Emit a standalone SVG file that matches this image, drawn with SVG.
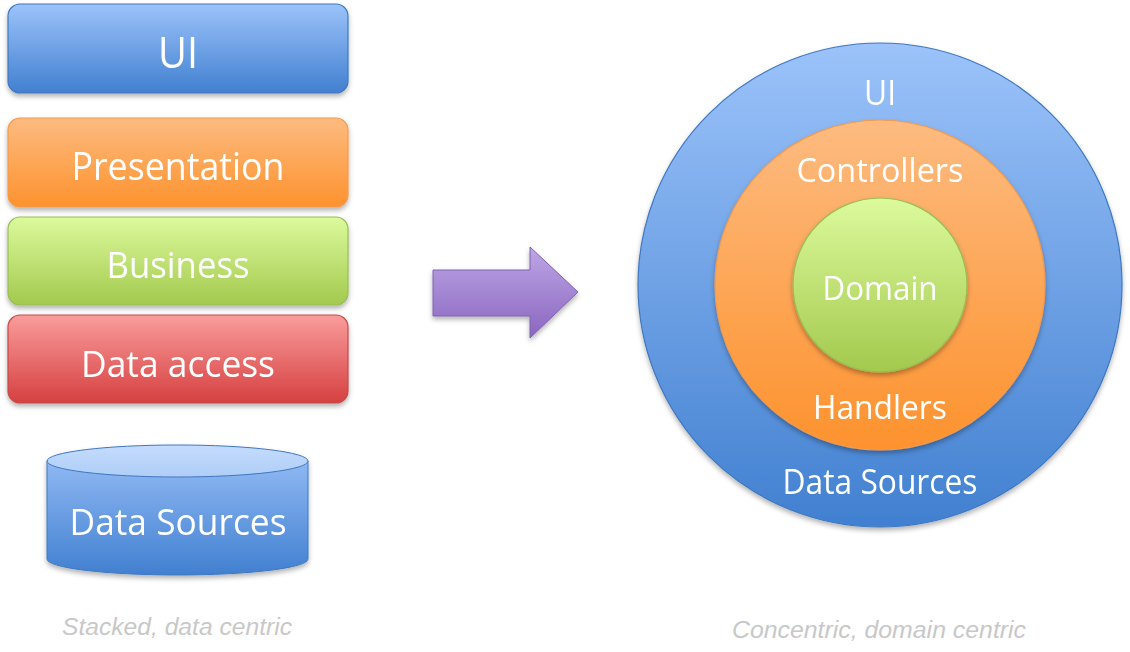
<svg xmlns="http://www.w3.org/2000/svg" width="1130" height="652" viewBox="0 0 1130 652">
<defs>
<linearGradient id="gBlue" x1="0" y1="0" x2="0" y2="1"><stop offset="0" stop-color="#9cc3fa"/><stop offset="1" stop-color="#4180d0"/></linearGradient>
<linearGradient id="gOrange" x1="0" y1="0" x2="0" y2="1"><stop offset="0" stop-color="#fdbb80"/><stop offset="1" stop-color="#fd922e"/></linearGradient>
<linearGradient id="gGreen" x1="0" y1="0" x2="0" y2="1"><stop offset="0" stop-color="#dcfa9c"/><stop offset="1" stop-color="#a3c94e"/></linearGradient>
<linearGradient id="gRed" x1="0" y1="0" x2="0" y2="1"><stop offset="0" stop-color="#fa9c9c"/><stop offset="1" stop-color="#d64040"/></linearGradient>
<linearGradient id="gPurple" x1="0" y1="0" x2="0" y2="1"><stop offset="0" stop-color="#bea6e6"/><stop offset="1" stop-color="#8a66bf"/></linearGradient>
<linearGradient id="gCylTop" x1="0" y1="0" x2="0" y2="1"><stop offset="0" stop-color="#c4dcfd"/><stop offset="1" stop-color="#afcdf7"/></linearGradient>
<linearGradient id="gCyl" x1="0" y1="0" x2="0" y2="1"><stop offset="0" stop-color="#8fb8f3"/><stop offset="1" stop-color="#4180d0"/></linearGradient>
<filter id="shadow" x="-10%" y="-10%" width="120%" height="130%"><feDropShadow dx="0" dy="3" stdDeviation="2.5" flood-color="#000" flood-opacity="0.3"/></filter>
</defs>
<style>
.lbl{font-family:"Open Sans","Noto Sans",sans-serif;fill:#ffffff;text-anchor:middle}
.cap{font-family:"Liberation Sans",Arial,sans-serif;font-style:italic;fill:#c8c8c8;font-size:24.5px}
.box{stroke-width:1.2}
</style>
<g id="ui-box" filter="url(#shadow)">
<rect class="box" x="8" y="4" width="340" height="89" rx="12" fill="url(#gBlue)" stroke="#3f78c0"/>
<text class="lbl" x="178" y="68" font-size="43" textLength="40" lengthAdjust="spacingAndGlyphs">UI</text>
</g>
<g id="presentation-box" filter="url(#shadow)">
<rect class="box" x="8" y="118" width="340" height="89" rx="12" fill="url(#gOrange)" stroke="#f49a4c"/>
<text class="lbl" x="178" y="180" font-size="38" textLength="213" lengthAdjust="spacingAndGlyphs">Presentation</text>
</g>
<g id="business-box" filter="url(#shadow)">
<rect class="box" x="8" y="217" width="340" height="88" rx="12" fill="url(#gGreen)" stroke="#98bd55"/>
<text class="lbl" x="178" y="278" font-size="36" textLength="143" lengthAdjust="spacingAndGlyphs">Business</text>
</g>
<g id="data-access-box" filter="url(#shadow)">
<rect class="box" x="8" y="315" width="340" height="88" rx="12" fill="url(#gRed)" stroke="#c54a4a"/>
<text class="lbl" x="178" y="377" font-size="37" textLength="194" lengthAdjust="spacingAndGlyphs">Data access</text>
</g>
<g id="data-sources-cylinder" filter="url(#shadow)">
<path d="M47,461 L47,559 A130.5,16 0 0 0 308,559 L308,461 Z" fill="url(#gCyl)" stroke="#3f78c0" stroke-width="1"/>
<ellipse cx="177.5" cy="461" rx="130.5" ry="16" fill="url(#gCylTop)" stroke="#3f78c0" stroke-width="1"/>
<text class="lbl" x="178" y="535" font-size="37" textLength="217" lengthAdjust="spacingAndGlyphs">Data Sources</text>
</g>
<g id="connectors">
<path filter="url(#shadow)" d="M433,270 L530,270 L530,247 L578,292 L530,338 L530,316 L433,316 Z" fill="url(#gPurple)" stroke="#7f62b0" stroke-width="1"/>
</g>
<g id="ui-circle" filter="url(#shadow)">
<circle cx="880" cy="285" r="242" fill="url(#gBlue)" stroke="#3f78c0" stroke-width="1.2"/>
<text class="lbl" x="880" y="105" font-size="34" textLength="32" lengthAdjust="spacingAndGlyphs">UI</text>
<text class="lbl" x="880" y="494" font-size="34" textLength="195" lengthAdjust="spacingAndGlyphs">Data Sources</text>
</g>
<g id="controllers-circle" filter="url(#shadow)">
<circle cx="880" cy="285" r="165" fill="url(#gOrange)" stroke="#f49a4c" stroke-width="1.2"/>
<text class="lbl" x="880" y="182" font-size="33" textLength="167" lengthAdjust="spacingAndGlyphs">Controllers</text>
<text class="lbl" x="880" y="419" font-size="33" textLength="134" lengthAdjust="spacingAndGlyphs">Handlers</text>
</g>
<g id="domain-circle" filter="url(#shadow)">
<circle cx="880" cy="285" r="87" fill="url(#gGreen)" stroke="#98bd55" stroke-width="1.2"/>
<text class="lbl" x="880" y="300" font-size="33" textLength="115" lengthAdjust="spacingAndGlyphs">Domain</text>
</g>
<text class="cap" x="62" y="635" textLength="230" lengthAdjust="spacingAndGlyphs">Stacked, data centric</text>
<text class="cap" x="732" y="638" textLength="294" lengthAdjust="spacingAndGlyphs">Concentric, domain centric</text>
</svg>
